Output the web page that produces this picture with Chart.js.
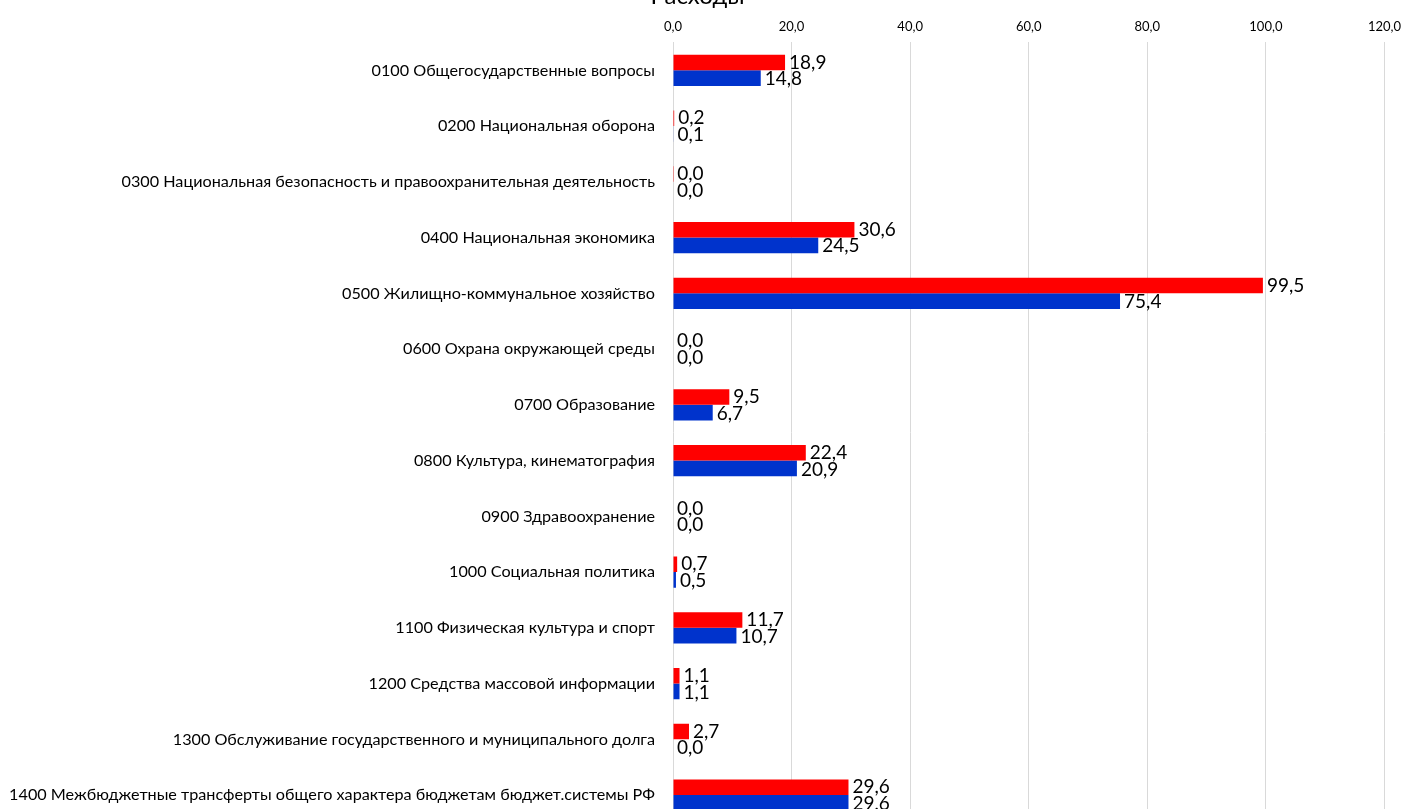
<!DOCTYPE html>
<html>
<head>
<meta charset="utf-8">
<script src="https://cdn.jsdelivr.net/npm/chart.js@4/dist/chart.umd.min.js"></script>
<style>
  html, body { margin: 0; padding: 0; overflow: hidden; background: #fff; }
  #wrap { position: absolute; left: 0; top: -22px; width: 1409px; height: 870px; }
</style>
</head>
<body>
<div id="wrap"><canvas id="chart"></canvas></div>
<script>
// categories (budget sections)
const categories = [
  '0100 Общегосударственные вопросы',
  '0200 Национальная оборона',
  '0300 Национальная безопасность и правоохранительная деятельность',
  '0400 Национальная экономика',
  '0500 Жилищно-коммунальное хозяйство',
  '0600 Охрана окружающей среды',
  '0700 Образование',
  '0800 Культура, кинематография',
  '0900 Здравоохранение',
  '1000 Социальная политика',
  '1100 Физическая культура и спорт',
  '1200 Средства массовой информации',
  '1300 Обслуживание государственного и муниципального долга',
  '1400 Межбюджетные трансферты общего характера бюджетам бюджет.системы РФ'
];

// red series (plan) and blue series (executed)
const planValues = [18.9, 0.2, 0.03, 30.6, 99.5, 0.0, 9.5, 22.4, 0.0, 0.7, 11.7, 1.1, 2.7, 29.6];
const factValues = [14.8, 0.1, 0.0, 24.5, 75.4, 0.0, 6.7, 20.9, 0.0, 0.5, 10.7, 1.1, 0.0, 29.6];

// x axis ticks
const tickValues = [0, 20, 40, 60, 80, 100, 120];

const fmt = v => v.toFixed(1).replace('.', ',');
const FONT = 'Lato, "Open Sans", sans-serif';

// simple value labels at the end of each bar
const valueLabels = {
  id: 'valueLabels',
  afterDatasetsDraw(chart) {
    const ctx = chart.ctx;
    ctx.save();
    ctx.font = '19px ' + FONT;
    ctx.fillStyle = '#000';
    ctx.textAlign = 'left';
    ctx.textBaseline = 'middle';
    chart.data.datasets.forEach((ds, i) => {
      chart.getDatasetMeta(i).data.forEach((bar, j) => {
        ctx.fillText(fmt(ds.data[j]), bar.x + 4, bar.y + (i === 0 ? 0 : 1));
      });
    });
    ctx.restore();
  }
};

new Chart(document.getElementById('chart'), {
  type: 'bar',
  data: {
    labels: categories,
    datasets: [
      { label: 'План', data: planValues, backgroundColor: '#ff0000', borderWidth: 0 },
      { label: 'Исполнено', data: factValues, backgroundColor: '#0033cc', borderWidth: 0 }
    ]
  },
  options: {
    indexAxis: 'y',
    responsive: true,
    maintainAspectRatio: false,
    animation: false,
    layout: { padding: { top: 4, right: 14, bottom: 25, left: 0 } },
    datasets: { bar: { categoryPercentage: 0.56, barPercentage: 1.0 } },
    plugins: {
      legend: { display: false },
      tooltip: { enabled: false },
      title: {
        display: true,
        text: 'Расходы',
        color: '#000',
        font: { family: FONT, size: 24, weight: 'normal' },
        padding: { top: 0, bottom: 0 }
      }
    },
    scales: {
      x: {
        position: 'top',
        min: 0,
        max: 120,
        afterBuildTicks: s => { s.ticks = tickValues.map(v => ({ value: v })); },
        ticks: {
          color: '#000',
          font: { family: FONT, size: 13 },
          padding: 8,
          callback: v => fmt(v)
        },
        grid: { color: '#d9d9d9', drawTicks: false },
        border: { display: false }
      },
      y: {
        afterFit: s => { s.width = 673; },
        ticks: {
          color: '#000',
          font: { family: FONT, size: 16.2 },
          padding: 10
        },
        grid: { display: false },
        border: { display: false }
      }
    }
  },
  plugins: [valueLabels]
});
</script>
</body>
</html>
